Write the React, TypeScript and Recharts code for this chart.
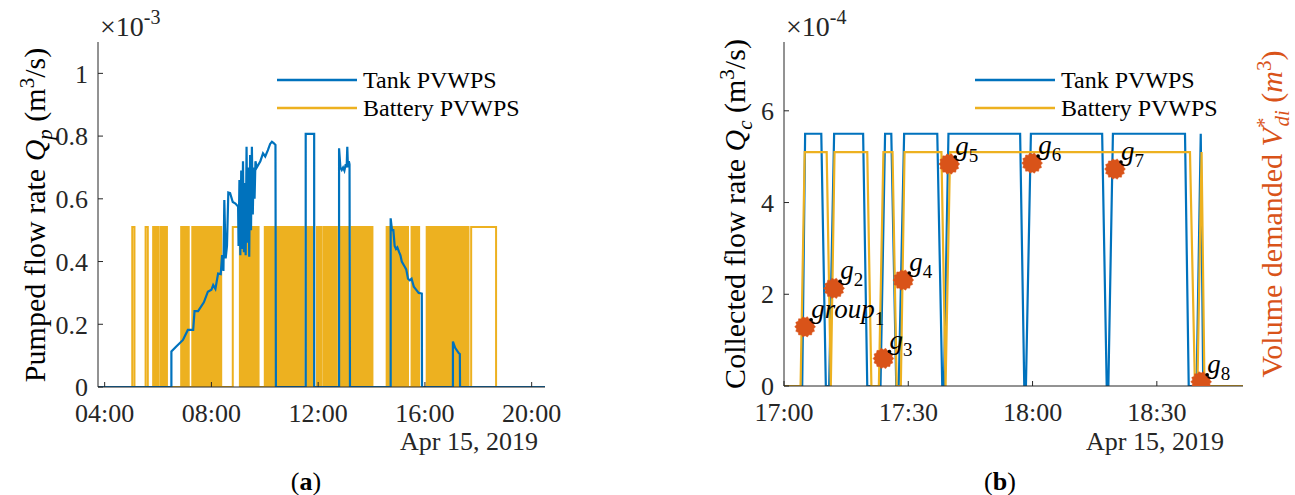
import React from 'react';
import { ComposedChart, Line, XAxis, YAxis, Scatter } from 'recharts';

const FONT = "'Liberation Serif', 'Times New Roman', Times, 'DejaVu Serif', serif";
const AXIS = '#262626';
const BLUE = '#0072BD';
const YELLOW = '#EDB120';
const ORANGE = '#D95319';

const seriesNames = ['Tank PVWPS', 'Battery PVWPS'];
const seriesColors = [BLUE, YELLOW];

// ---------- Panel (a): minutes after midnight, flow x 1e-3 m3/s ----------
const aDomain: [number, number] = [225, 1230];
const aTicks = [240, 480, 720, 960, 1200];
const aYTicks = [0, 0.2, 0.4, 0.6, 0.8, 1];

const tankA: [number, number][] = [
  [225, 0], [390, 0], [390, 0.113], [401, 0.129], [416, 0.15], [427, 0.182], [439, 0.182], [442, 0.242],
  [450, 0.242], [463, 0.27], [472, 0.304], [480, 0.31], [484, 0.325], [489, 0.313], [495, 0.362],
  [501, 0.36], [504, 0.421], [507, 0.37], [509, 0.596], [512, 0.41], [515, 0.45], [518, 0.62],
  [522, 0.618], [528, 0.59], [534, 0.585], [540, 0.575],
  [541, 0.45], [543, 0.66], [545, 0.42], [547, 0.69], [549, 0.44], [551, 0.72], [553, 0.43], [555, 0.65],
  [557, 0.42], [559, 0.766], [561, 0.46], [563, 0.7], [565, 0.415], [567, 0.74], [569, 0.5], [571, 0.766],
  [573, 0.55], [575, 0.7], [577, 0.6], [579, 0.72], [582, 0.7],
  [590, 0.72], [596, 0.745], [601, 0.735], [607, 0.755], [612, 0.775], [616, 0.782], [620, 0.778],
  [624, 0.772], [625, 0],
  [692, 0], [692, 0.807], [711, 0.807], [711, 0],
  [767, 0], [767, 0.761], [770, 0.7], [773, 0.692], [776, 0.7], [779, 0.69], [782, 0.71], [784, 0.7],
  [785.5, 0.766], [787, 0.7], [789, 0.72], [790.5, 0.71], [791.5, 0],
  [883, 0], [883, 0.538], [886, 0.5], [889, 0.5], [892, 0.45], [895, 0.44], [898, 0.445], [902, 0.43],
  [905, 0.42], [908, 0.4], [914, 0.385], [918, 0.375], [922, 0.345], [926, 0.34], [930, 0.345],
  [935, 0.32], [941, 0.309], [946, 0.3], [953, 0.298], [953.5, 0],
  [1023, 0], [1023, 0.145], [1028, 0.125], [1036, 0.108], [1038.5, 0.105], [1039, 0], [1230, 0],
];

const batteryLevelA = 0.51;
const batteryPulsesA: [number, number][] = [
  [302, 307], [332, 337],
  [349, 350.5], [352, 353.5], [355, 356.5], [358, 361],
  [366, 367.5], [369, 372],
  [375, 376.5], [378, 380],
  [412, 413.5], [415, 416.5], [418, 420], [422, 423.5], [425, 426], [427.5, 429],
  [437, 438.5], [440, 441.5], [443, 444.5], [446, 448],
  [450, 451.5], [453, 454.5], [456, 459],
  [461, 462.5], [464, 465.5], [467, 468.5], [470, 471.5], [473, 474.5], [476, 477.5], [479, 480.5], [482, 484],
  [486, 487.5], [489, 490.5], [492, 493],
  [496, 497.5], [499, 502],
  [528, 544], [545.5, 547], [548.5, 550], [551.5, 553], [554.5, 556], [557.5, 559], [560.5, 562],
  [563.5, 565], [566.5, 568], [569.5, 571], [572.5, 574], [575.5, 577], [578.5, 580], [581.5, 583], [584.5, 586],
  [600, 601.5], [603, 604.5], [606, 607.5], [609, 610.5], [612, 613.5], [615, 616.5], [618, 619.5], [621, 623],
  [627, 628.5], [630, 631.5], [633, 634.5], [636, 637.5], [639, 640.5], [642, 643.5], [645, 646.5],
  [648, 649.5], [651, 652.5], [654, 655.5], [657, 658.5], [660, 661.5], [663, 664.5], [666, 667.5],
  [669, 670.5], [672, 673.5], [675, 676.5], [678, 679.5], [681, 682.5], [684, 687],
  [692, 693.5], [695, 696.5], [698, 699.5], [701, 702.5], [704, 705.5], [707, 709],
  [717, 718.5], [720, 721.5], [723, 724.5], [726, 728],
  [733, 734.5], [736, 737.5], [739, 740.5], [742, 743.5], [745, 746.5], [748, 749.5], [751, 752.5],
  [754, 755.5], [757, 758.5], [760, 762],
  [768, 769.5], [771, 772.5], [774, 775.5], [777, 778.5], [780, 781.5], [783, 784.5], [786, 788],
  [795, 796.5], [798, 799.5], [801, 802.5], [804, 805.5], [807, 808.5], [810, 811.5], [813, 814.5],
  [816, 817.5], [819, 820.5], [822, 823.5], [825, 826.5], [828, 829.5], [831, 832.5], [834, 835.5],
  [837, 838.5], [840, 842],
  [874, 875.5], [877, 878.5], [880, 881.5], [883, 884.5], [886, 887.5], [889, 890.5], [892, 893.5],
  [895, 896.5], [898, 899.5], [901, 902.5], [904, 905.5], [907, 908.5], [910, 911.5], [913, 914.5],
  [916, 917.5], [919, 922],
  [930, 931.5], [933, 934.5], [936, 937.5], [939, 940.5], [942, 943.5], [945, 947],
  [964, 965.5], [967, 968.5], [970, 971.5], [973, 974.5], [976, 977.5], [979, 980.5], [982, 983.5],
  [985, 986.5], [988, 989.5], [991, 992.5], [994, 995.5], [997, 998.5], [1000, 1001.5], [1003, 1004.5],
  [1007, 1008.5], [1010, 1011.5], [1013, 1014.5], [1016, 1017.5], [1021, 1022.5], [1024, 1025.5],
  [1027, 1028.5], [1032, 1033.5], [1035, 1036.5], [1038, 1039.5], [1041, 1042.5], [1044, 1045.5],
  [1047, 1048.5], [1051, 1052.5], [1054, 1055.5], [1057, 1058],
  [1064, 1120],
];

// ---------- Panel (b): minutes after 17:00, flow x 1e-4 m3/s ----------
const bDomain: [number, number] = [0, 110.8];
const bTicks = [0, 30, 60, 90];
const bYTicks = [0, 2, 4, 6];

const tankB: [number, number][] = [
  [0, 0], [4.4, 0], [5.1, 5.5], [9.0, 5.5], [10.1, 0], [10.9, 0], [12.1, 5.5], [19.1, 5.5], [20.1, 0],
  [23.3, 0], [24.4, 5.5], [25.9, 5.5], [27.1, 0], [27.7, 0], [29.0, 5.5], [37.0, 5.5], [38.2, 0],
  [38.6, 0], [39.7, 5.5], [57.0, 5.5], [58.0, 0], [58.4, 0], [59.6, 5.5], [76.8, 5.5], [77.9, 0],
  [78.3, 0], [79.4, 5.5], [96.8, 5.5], [97.7, 0], [99.6, 0], [100.6, 5.5], [101.2, 0], [110.8, 0],
];

const batteryB: [number, number][] = [
  [0, 0], [4.0, 0], [5.0, 5.1], [10.3, 5.1], [11.3, 0], [12.2, 5.1], [20.1, 5.1], [21.1, 0], [22.9, 0],
  [24.0, 5.1], [26.2, 5.1], [27.2, 0], [28.2, 0], [29.1, 5.1], [38.0, 5.1], [39.0, 0], [40.1, 5.1],
  [98.0, 5.1], [99.2, 0], [99.8, 0], [100.8, 5.1], [101.5, 0], [110.8, 0],
];

const groupTimes = [5.1, 12.1, 24.0, 28.8, 39.9, 59.9, 79.9, 100.7];
const groupVolumes = [1.29, 2.13, 0.6, 2.31, 4.84, 4.86, 4.73, 0.09];
const groupNames = ['group', 'g', 'g', 'g', 'g', 'g', 'g', 'g'];
const groupSubs = ['1', '2', '3', '4', '5', '6', '7', '8'];

// ---------- derived tables ----------
const toRows = (arr: [number, number][]) => arr.map(([t, v]) => ({ t, v }));
const tankARows = toRows(tankA);
const batteryARows: { t: number; v: number }[] = [{ t: aDomain[0], v: 0 }];
batteryPulsesA.forEach(([s, e]) => {
  batteryARows.push({ t: s, v: 0 }, { t: s, v: batteryLevelA }, { t: e, v: batteryLevelA }, { t: e, v: 0 });
});
batteryARows.push({ t: aDomain[1], v: 0 });
const tankBRows = toRows(tankB);
const batteryBRows = toRows(batteryB);
const groupRows = groupTimes.map((t, i) => ({ t, v: groupVolumes[i], name: groupNames[i], sub: groupSubs[i] }));

const pad = (n: number) => (n < 10 ? '0' + n : '' + n);
const fmtA = (m: number) => `${pad(Math.floor(m / 60))}:${pad(m % 60)}`;
const fmtB = (m: number) => `${17 + Math.floor(m / 60)}:${pad(m % 60)}`;

const tickStyle = { fontSize: 26, fill: AXIS, fontFamily: FONT, style: { fontFamily: FONT } };
const txt = { fontFamily: FONT } as React.CSSProperties;

const GroupMarker = (props: any) => {
  const { cx, cy, payload } = props;
  if (cx == null || cy == null) return null;
  const pts: string[] = [];
  for (let i = 0; i < 28; i++) {
    const r = i % 2 ? 8.8 : 10.4;
    const a = (i * Math.PI) / 14;
    pts.push(`${cx + r * Math.cos(a)},${cy + r * Math.sin(a)}`);
  }
  return (
    <g>
      <polygon points={pts.join(' ')} fill={ORANGE} stroke={ORANGE} strokeWidth={0.5} />
      <circle cx={cx + 6} cy={cy - 7} r={1.8} fill="#000" />
      <text x={cx + 6} y={cy - 9} style={txt} fontSize={27} fill="#000">
        <tspan fontStyle="italic">{payload.name}</tspan>
        <tspan dy={7} fontSize={19}>{payload.sub}</tspan>
      </text>
    </g>
  );
};

const RotLabel = ({ cx, cy, color, children }: any) => (
  <text
    x={cx}
    y={cy + 10}
    transform={`rotate(-90 ${cx} ${cy})`}
    textAnchor="middle"
    style={txt}
    fontSize={30}
    fill={color}
  >
    {children}
  </text>
);

const LegendBlock = ({ x, y }: { x: number; y: number }) => (
  <g>
    {seriesNames.map((n, i) => (
      <g key={n}>
        <line x1={x} x2={x + 80} y1={y + i * 28} y2={y + i * 28} stroke={seriesColors[i]} strokeWidth={2.5} />
        <text x={x + 86} y={y + i * 28 + 8} style={txt} fontSize={24} fill="#000">
          {n}
        </text>
      </g>
    ))}
  </g>
);

export default function App() {
  return (
    <div style={{ position: 'absolute', left: 0, top: 0, width: 1295, height: 495, background: '#fff', fontFamily: FONT }}>
      <div style={{ position: 'absolute', left: 0, top: 0 }}>
        <ComposedChart width={600} height={495} margin={{ top: 42, right: 55, bottom: 78, left: 38 }} style={txt}>
          <XAxis xAxisId="b" dataKey="t" type="number" domain={aDomain} ticks={aTicks} tickFormatter={fmtA}
            allowDataOverflow interval={0} height={30} stroke={AXIS} tickSize={-5} tickMargin={22} tick={tickStyle} />
          <XAxis xAxisId="t" orientation="top" dataKey="t" type="number" domain={aDomain} ticks={aTicks}
            allowDataOverflow height={0} stroke={AXIS} tickSize={-5} tick={false} />
          <YAxis yAxisId="l" type="number" domain={[0, 1.1]} ticks={aYTicks} allowDataOverflow width={60}
            stroke={AXIS} tickSize={-5} tickMargin={15} tick={tickStyle} interval={0} />
          <YAxis yAxisId="r" orientation="right" type="number" domain={[0, 1.1]} ticks={aYTicks} allowDataOverflow
            width={0} stroke={AXIS} tickSize={-5} tick={false} />
          <Line xAxisId="b" yAxisId="l" data={batteryARows} dataKey="v" type="linear" stroke={YELLOW}
            strokeWidth={2} dot={false} isAnimationActive={false} />
          <Line xAxisId="b" yAxisId="l" data={tankARows} dataKey="v" type="linear" stroke={BLUE}
            strokeWidth={2.2} dot={false} isAnimationActive={false} />
        </ComposedChart>
      </div>
      <div style={{ position: 'absolute', left: 700, top: 0 }}>
        <ComposedChart width={595} height={495} margin={{ top: 42, right: 52, bottom: 79, left: 24 }} style={txt}>
          <XAxis xAxisId="b" dataKey="t" type="number" domain={bDomain} ticks={bTicks} tickFormatter={fmtB}
            allowDataOverflow interval={0} height={30} stroke={AXIS} tickSize={-5} tickMargin={22} tick={tickStyle} />
          <XAxis xAxisId="t" orientation="top" dataKey="t" type="number" domain={bDomain} ticks={bTicks}
            allowDataOverflow height={0} stroke={AXIS} tickSize={-5} tick={false} />
          <YAxis yAxisId="l" type="number" domain={[0, 7.5]} ticks={bYTicks} allowDataOverflow width={60}
            stroke={AXIS} tickSize={-5} tickMargin={15} tick={tickStyle} interval={0} />
          <YAxis yAxisId="r" orientation="right" type="number" domain={[0, 7.5]} allowDataOverflow width={0}
            stroke={ORANGE} axisLine={{ stroke: ORANGE, strokeWidth: 1.5 }} tickLine={false} tick={false} />
          <Line xAxisId="b" yAxisId="l" data={tankBRows} dataKey="v" type="linear" stroke={BLUE}
            strokeWidth={2.2} dot={false} isAnimationActive={false} />
          <Line xAxisId="b" yAxisId="l" data={batteryBRows} dataKey="v" type="linear" stroke={YELLOW}
            strokeWidth={2.2} dot={false} isAnimationActive={false} />
          <Scatter xAxisId="b" yAxisId="r" data={groupRows} dataKey="v" fill={ORANGE}
            shape={<GroupMarker />} isAnimationActive={false} />
        </ComposedChart>
      </div>
      <svg width={1295} height={495} style={{ position: 'absolute', left: 0, top: 0, pointerEvents: 'none' }}>
        <text x={100} y={36} style={txt} fontSize={28} fill={AXIS}>
          ×10<tspan dy={-12} fontSize={20}>-3</tspan>
        </text>
        <text x={786} y={36} style={txt} fontSize={28} fill={AXIS}>
          ×10<tspan dy={-12} fontSize={20}>-4</tspan>
        </text>
        <RotLabel cx={35} cy={215} color="#000">
          Pumped flow rate <tspan fontStyle="italic">Q</tspan>
          <tspan dy={7} fontSize={21} fontStyle="italic">p</tspan>
          <tspan dy={-7}> (m</tspan>
          <tspan dy={-11} fontSize={21}>3</tspan>
          <tspan dy={11}>/s)</tspan>
        </RotLabel>
        <RotLabel cx={735} cy={214} color="#000">
          Collected flow rate <tspan fontStyle="italic">Q</tspan>
          <tspan dy={7} fontSize={21} fontStyle="italic">c</tspan>
          <tspan dy={-7}> (m</tspan>
          <tspan dy={-11} fontSize={21}>3</tspan>
          <tspan dy={11}>/s)</tspan>
        </RotLabel>
        <RotLabel cx={1272} cy={214} color={ORANGE}>
          Volume demanded <tspan fontStyle="italic">V</tspan>
          <tspan dy={-11} fontSize={21}>*</tspan>
          <tspan dx={-9} dy={18} fontSize={21} fontStyle="italic">di</tspan>
          <tspan dy={-7}> (</tspan>
          <tspan fontStyle="italic">m</tspan>
          <tspan dy={-11} fontSize={21}>3</tspan>
          <tspan dy={11}>)</tspan>
        </RotLabel>
        <LegendBlock x={277} y={80} />
        <LegendBlock x={975} y={80} />
        <text x={538} y={450} textAnchor="end" style={txt} fontSize={26} fill={AXIS}>Apr 15, 2019</text>
        <text x={1224} y={450} textAnchor="end" style={txt} fontSize={26} fill={AXIS}>Apr 15, 2019</text>
        <text x={306} y={490} textAnchor="middle" style={txt} fontSize={26} fill="#000">
          (<tspan fontWeight="bold">a</tspan>)
        </text>
        <text x={1000} y={490} textAnchor="middle" style={txt} fontSize={26} fill="#000">
          (<tspan fontWeight="bold">b</tspan>)
        </text>
      </svg>
    </div>
  );
}
